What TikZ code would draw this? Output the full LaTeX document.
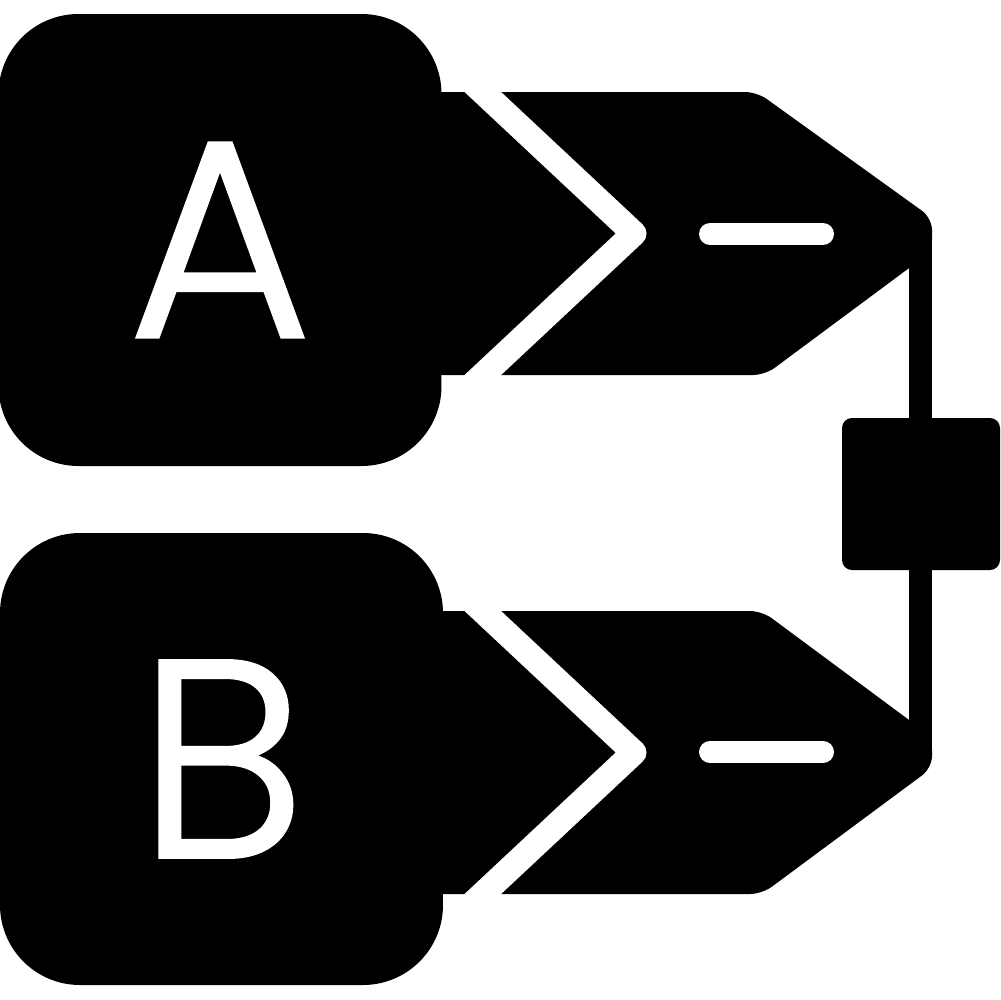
\documentclass[tikz,border=0pt]{standalone}
\usepackage{fontspec}
\newfontfamily\iconfont{Poppins}[UprightFont=* Light,UprightFeatures={FakeBold=1.2}]
\begin{document}
\begin{tikzpicture}[x=0.1mm,y=-0.1mm,
	letterbox/.style={rectangle,fill=black,rounded corners=8mm,minimum width=44.3mm,minimum height=45.2mm,inner sep=0pt,text=white,font=\iconfont\fontsize{80}{80}\selectfont},
	tagband/.style={fill=black,rounded corners=1.2mm},
	chevron/.style={draw=white,line width=2.5mm,line join=round},
	minusbar/.style={draw=white,line width=2.2mm,line cap=round},
	wire/.style={draw=black,line width=2.3mm},
	hub/.style={rectangle,fill=black,rounded corners=1mm,minimum width=15.8mm,minimum height=15.2mm,inner sep=0pt}]
	\useasboundingbox (0,0) rectangle (1000,1000);

	% upper tag
	\path[tagband] (420,92) -- (757,92) -- (932,218) -- (932,251) -- (765,375) -- (420,375) -- cycle;
	\node[letterbox] at (220,240) (boxA) {A};
	\draw[chevron] (470,80) -- (634,233.5) -- (470,387);
	\coordinate (minusA1) at (710,234);
	\coordinate (minusA2) at (823,234);
	\draw[minusbar] (minusA1) -- (minusA2);

	% lower tag
	\path[tagband] (420,611) -- (762,611) -- (932,737) -- (932,768) -- (762,894) -- (420,894) -- cycle;
	\node[letterbox] at (221.5,759) (boxB) {B};
	\draw[chevron] (470,599) -- (634,752.5) -- (470,906);
	\coordinate (minusB1) at (710,752);
	\coordinate (minusB2) at (823,752);
	\draw[minusbar] (minusB1) -- (minusB2);

	% link between tags
	\coordinate (tipA) at (920.5,236);
	\coordinate (tipB) at (920.5,750);
	\draw[wire] (tipA) -- (tipB);
	\node[hub] at (921,494) (hub) {};
\end{tikzpicture}
\end{document}
